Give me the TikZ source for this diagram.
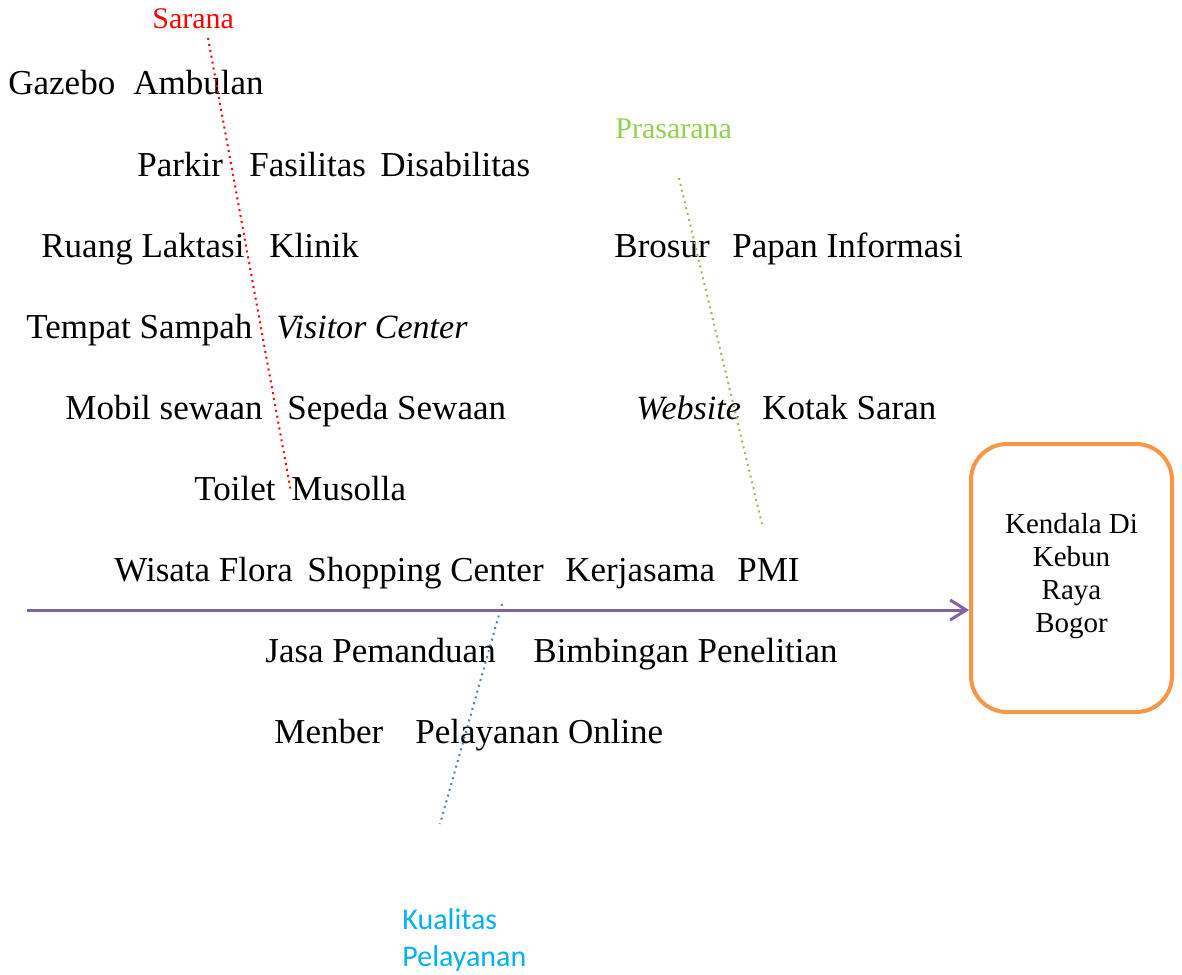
\documentclass[tikz,border=0pt]{standalone}
\usepackage{fontspec}
\setmainfont{Liberation Serif}
\newfontfamily\calibri{Carlito}
\usepackage{xcolor}
\usetikzlibrary{arrows.meta, positioning}
\definecolor{spinePurple}{HTML}{8064A2}
\definecolor{boxOrange}{HTML}{F79646}
\definecolor{prasGreen}{HTML}{92D050}
\definecolor{boneGreen}{HTML}{9BBB59}
\definecolor{boneBlue}{HTML}{4F81BD}
\definecolor{kualBlue}{HTML}{00B0F0}
\tikzset{
    item/.style={anchor=base west, inner sep=0pt, font=\fontsize{17.5}{21}\selectfont},
    itemIt/.style={item, font=\fontsize{17}{21}\selectfont\itshape},
    cause/.style={anchor=base west, inner sep=0pt, font=\fontsize{15}{18}\selectfont},
    bone/.style={dotted, line width=1pt},
    spine/.style={-{Straight Barb[length=8pt, width=10pt]}, line width=1.5pt, draw=spinePurple},
    effect/.style={rectangle, rounded corners=18pt, draw=boxOrange, line width=2pt, align=center, minimum width=100.5pt, minimum height=134pt, text depth=5pt, font=\fontsize{14.5}{16.5}\selectfont}
}
\begin{document}
\begin{tikzpicture}[x=0.5pt, y=-0.5pt]
    \useasboundingbox (0,0) rectangle (1182,974);

    % Effect
    \node[effect] (Kendala) at (1071.5,578) {Kendala Di\\Kebun\\Raya\\Bogor};

    % Causes
    \node[cause, text=red] (Sarana) at (152,29) {Sarana};
    \node[cause, text=prasGreen] (Prasarana) at (615,139) {Prasarana};
    \node[anchor=north west, inner sep=0pt, align=left, text=kualBlue, font=\calibri\fontsize{15}{18.5}\selectfont] (Kualitas) at (402,908) {Kualitas\\Pelayanan};

    % Sarana items
    \node[item] (Gazebo) at (8,95) {Gazebo};
    \node[item] (Ambulan) at (133,95) {Ambulan};
    \node[item] (Parkir) at (137,176) {Parkir};
    \node[item] (Fasilitas) at (249,176) {Fasilitas};
    \node[item] (Disabilitas) at (380,176) {Disabilitas};
    \node[item] (Laktasi) at (41,257) {Ruang Laktasi};
    \node[item] (Klinik) at (269,257) {Klinik};
    \node[item] (Sampah) at (26,338) {Tempat Sampah};
    \node[itemIt] (Visitor) at (276,338) {Visitor Center};
    \node[item] (Mobil) at (65,419) {Mobil sewaan};
    \node[item] (Sepeda) at (287,419) {Sepeda Sewaan};
    \node[item] (Toilet) at (194,500) {Toilet};
    \node[item] (Musolla) at (291,500) {Musolla};

    % Prasarana items
    \node[item] (Brosur) at (614,257) {Brosur};
    \node[item] (Papan) at (732,257) {Papan Informasi};
    \node[itemIt] (Website) at (636,419) {Website};
    \node[item] (Kotak) at (762,419) {Kotak Saran};

    % Pelayanan items
    \node[item] (Wisata) at (114,581) {Wisata Flora};
    \node[item] (Shopping) at (307,581) {Shopping Center};
    \node[item] (Kerjasama) at (565,581) {Kerjasama};
    \node[item] (PMI) at (737,581) {PMI};
    \node[item] (Jasa) at (265,662) {Jasa Pemanduan};
    \node[item] (Bimbingan) at (533,662) {Bimbingan Penelitian};
    \node[item] (Menber) at (274,743) {Menber};
    \node[item] (Online) at (415,743) {Pelayanan Online};

    % Bones
    \coordinate (saranaTop) at (208,38);
    \coordinate (saranaEnd) at (291,492);
    \coordinate (prasTop) at (679,178);
    \coordinate (prasEnd) at (762,524);
    \coordinate (kualStart) at (502,604);
    \coordinate (kualEnd) at (440,824);
    \coordinate (spineStart) at (27,610);

    \draw[bone, red] (saranaTop) -- (saranaEnd);
    \draw[bone, boneGreen] (prasTop) -- (prasEnd);
    \draw[bone, boneBlue] (kualStart) -- (kualEnd);

    % Spine
    \draw[spine] (spineStart) -- (spineStart -| Kendala.west);

\end{tikzpicture}
\end{document}
